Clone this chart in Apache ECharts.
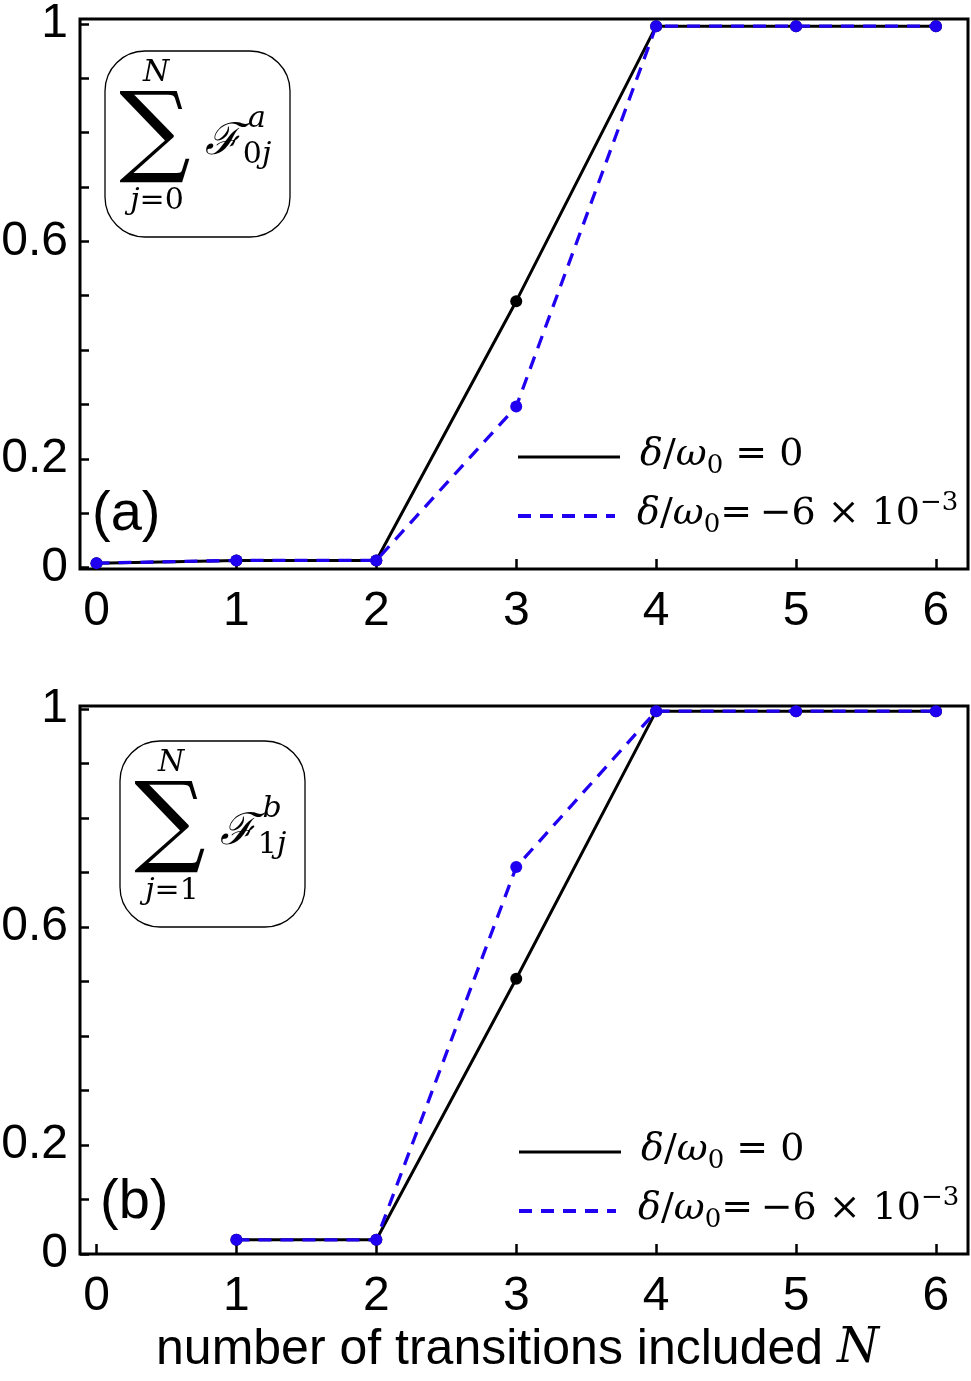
<!DOCTYPE html>
<html>
<head>
<meta charset="utf-8">
<script src="https://cdn.jsdelivr.net/npm/echarts@6/dist/echarts.min.js"></script>
<style>
  html, body { margin: 0; padding: 0; background: #fff; }
  #chart { width: 971px; height: 1381px; }
</style>
</head>
<body>
<div id="chart"></div>
<script>
// data
const nA = [0, 1, 2, 3, 4, 5, 6];
const blackA = [0.008, 0.013, 0.013, 0.49, 0.996, 0.996, 0.996];
const blueA = [0.008, 0.013, 0.013, 0.296, 0.996, 0.996, 0.996];

const nB = [1, 2, 3, 4, 5, 6];
const blackB = [0.026, 0.026, 0.505, 0.996, 0.996, 0.996];
const blueB = [0.026, 0.026, 0.71, 0.996, 0.996, 0.996];

const xTicks = [0, 1, 2, 3, 4, 5, 6];
const yTicks = [0, 0.1, 0.2, 0.3, 0.4, 0.5, 0.6, 0.7, 0.8, 0.9, 1];
const yLabels = [0, 0.2, 0.6, 1];

const BLUE = "#2000f0";
const SANS = "Liberation Sans, Arial, sans-serif";
const SERIF = "DejaVu Serif, Liberation Serif, serif";

const pairs = (xs, ys) => xs.map((x, i) => [x, ys[i]]);

const xAxisFor = (gridIndex, withName) => ({
    type: "value",
    gridIndex: gridIndex,
    min: -0.118,
    max: 6.229,
    axisLine: { show: false, onZero: false },
    splitLine: { show: false },
    axisTick: { inside: true, length: 10, customValues: xTicks, lineStyle: { color: "#000", width: 2.5 } },
    axisLabel: { customValues: xTicks, color: "#000", fontFamily: SANS, fontSize: 48, margin: 19 },
    name: withName ? "number of transitions included {n|N}" : "",
    nameLocation: "middle",
    nameGap: 71,
    nameTextStyle: {
        color: "#000", fontFamily: SANS, fontSize: 50, padding: [0, 13, 0, 0],
        rich: { n: { fontFamily: SERIF, fontStyle: "italic", fontSize: 48, color: "#000" } }
    }
});

const yAxisFor = (gridIndex, min, max) => ({
    type: "value",
    gridIndex: gridIndex,
    min: min,
    max: max,
    axisLine: { show: false, onZero: false },
    splitLine: { show: false },
    axisTick: { inside: true, length: 9, customValues: yTicks, lineStyle: { color: "#000", width: 2.5 } },
    axisLabel: { customValues: yLabels, color: "#000", fontFamily: SANS, fontSize: 48, margin: 12 }
});

const lineSeries = (xi, yi, data, color, dashed) => ({
    type: "line",
    xAxisIndex: xi,
    yAxisIndex: yi,
    data: data,
    symbol: "circle",
    symbolSize: 12,
    itemStyle: { color: color },
    lineStyle: { color: color, width: dashed ? 3.3 : 3, type: dashed ? [13, 9] : "solid" },
    z: dashed ? 3 : 2,
    animation: false
});

// formula box helper
const formulaBox = (bx, by, lower, sup, sub) => ({
    type: "group",
    x: bx,
    y: by,
    children: [
        { type: "rect", shape: { x: 0, y: 0, width: 185, height: 186, r: 40 },
          style: { fill: "none", stroke: "#000", lineWidth: 1.3 } },
        { type: "text", x: 51, y: 22, style: { text: "N", font: "italic 30px " + SERIF, fill: "#000", align: "center", verticalAlign: "middle" } },
        { type: "text", x: 50, y: 86, style: { text: "\u2211", font: "100px " + SERIF, fill: "#000", align: "center", verticalAlign: "middle" } },
        { type: "text", x: 52, y: 150, style: { text: "{i|j}{r|=" + lower + "}", fill: "#000", align: "center", verticalAlign: "middle",
            rich: { i: { font: "italic 30px " + SERIF }, r: { font: "30px " + SERIF } } } },
        { type: "text", x: 118, y: 92, style: { text: "\u2131", font: "italic 44px " + SERIF, fill: "#000", align: "center", verticalAlign: "middle" } },
        { type: "text", x: 152, y: 68, style: { text: sup, font: "italic 30px " + SERIF, fill: "#000", align: "center", verticalAlign: "middle" } },
        { type: "text", x: 152, y: 104, style: { text: "{r|" + sub[0] + "}{i|" + sub[1] + "}", fill: "#000", align: "center", verticalAlign: "middle",
            rich: { i: { font: "italic 30px " + SERIF }, r: { font: "30px " + SERIF } } } }
    ]
});

const legendRich = (color) => ({
    i: { font: "italic 38px " + SERIF, color: color, lineHeight: 48, verticalAlign: "middle" },
    r: { font: "38px " + SERIF, color: color, lineHeight: 48, verticalAlign: "middle" },
    s: { font: "26px " + SERIF, color: color, lineHeight: 48, verticalAlign: "bottom" },
    p: { font: "26px " + SERIF, color: color, lineHeight: 48, verticalAlign: "top" }
});

const legendGroup = (lx, ly) => ({
    type: "group",
    x: lx,
    y: ly,
    children: [
        { type: "line", shape: { x1: 0, y1: 0, x2: 102, y2: 0 }, style: { stroke: "#000", lineWidth: 3 } },
        { type: "text", x: 122, y: -2, style: { text: "{i|\u03b4}{r|/}{i|\u03c9}{s|0}{r| = 0}", rich: legendRich("#000"), verticalAlign: "middle" } },
        { type: "line", shape: { x1: 0, y1: 59, x2: 97, y2: 59 }, style: { stroke: BLUE, lineWidth: 4, lineDash: [13, 9] } },
        { type: "text", x: 119, y: 57, style: { text: "{i|\u03b4}{r|/}{i|\u03c9}{s|0}{r|=\u2009\u22126 \u00d7 10}{p|\u22123}", rich: legendRich(BLUE), verticalAlign: "middle" } }
    ]
});

const initChart = () => {
    const myChart = echarts.init(document.getElementById("chart"), null, { renderer: "canvas" });
    const option = {
        backgroundColor: "#fff",
        animation: false,
        grid: [
            { left: 80, top: 19, width: 888, height: 550, show: true, borderColor: "#000", borderWidth: 3,
              backgroundColor: "transparent", outerBoundsMode: "none" },
            { left: 80, top: 706, width: 888, height: 548, show: true, borderColor: "#000", borderWidth: 3,
              backgroundColor: "transparent", outerBoundsMode: "none" }
        ],
        xAxis: [xAxisFor(0, false), xAxisFor(1, true)],
        yAxis: [yAxisFor(0, -0.0028, 1.0092), yAxisFor(1, 0, 1.0055)],
        series: [
            lineSeries(0, 0, pairs(nA, blackA), "#000", false),
            lineSeries(0, 0, pairs(nA, blueA), BLUE, true),
            lineSeries(1, 1, pairs(nB, blackB), "#000", false),
            lineSeries(1, 1, pairs(nB, blueB), BLUE, true)
        ],
        graphic: [
            formulaBox(105, 51, "0", "a", ["0", "j"]),
            formulaBox(120, 741, "1", "b", ["1", "j"]),
            legendGroup(518, 457),
            legendGroup(519, 1152),
            { type: "text", x: 92, y: 515, style: { text: "(a)", font: "56px " + SANS, fill: "#000", verticalAlign: "middle" } },
            { type: "text", x: 100, y: 1203, style: { text: "(b)", font: "56px " + SANS, fill: "#000", verticalAlign: "middle" } }
        ]
    };
    myChart.setOption(option);
};

window.addEventListener("load", () => {
    initChart();
});
</script>
</body>
</html>
